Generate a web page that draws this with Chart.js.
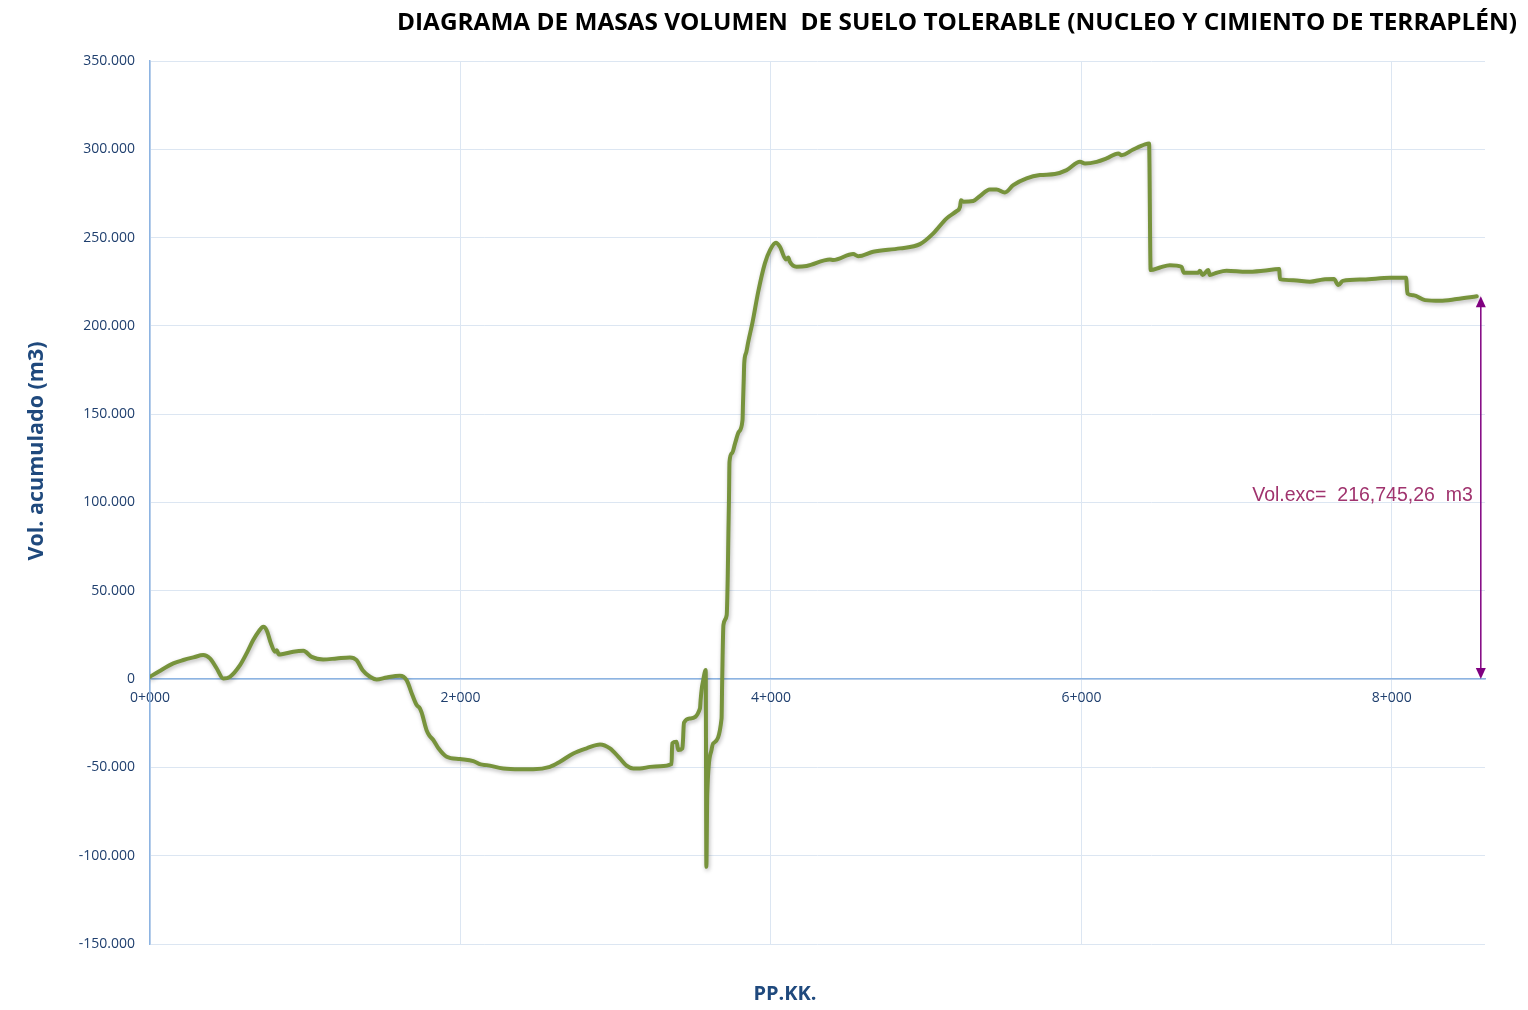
<!DOCTYPE html>
<html>
<head>
<meta charset="utf-8">
<script src="https://cdn.jsdelivr.net/npm/chart.js@4/dist/chart.umd.min.js"></script>
<style>
  html, body { margin: 0; padding: 0; background: #ffffff; }
  #wrap { width: 1528px; height: 1010px; position: relative; }
</style>
</head>
<body>
<div id="wrap"><canvas id="c" width="1528" height="1010"></canvas></div>
<script>
// ---- DATA ----
const chartTitle = 'DIAGRAMA DE MASAS VOLUMEN  DE SUELO TOLERABLE (NUCLEO Y CIMIENTO DE TERRAPLÉN)';
const yAxisTitle = 'Vol. acumulado (m3)';
const xAxisTitle = 'PP.KK.';
const xTickValues = [0, 2000, 4000, 6000, 8000];
const yTickValues = [-150000, -100000, -50000, 0, 50000, 100000, 150000, 200000, 250000, 300000, 350000];
const stations = [0, 60, 150, 215, 280, 343, 386, 430, 472, 515, 580, 625, 665, 700, 730, 751, 780, 805, 816, 830, 848, 923, 988, 1041, 1116, 1202, 1288, 1331, 1370, 1417, 1460, 1525, 1610, 1653, 1690, 1718, 1739, 1750, 1782, 1800, 1825, 1858, 1911, 1997, 2083, 2130, 2169, 2276, 2383, 2469, 2576, 2641, 2727, 2813, 2899, 2963, 3027, 3070, 3113, 3156, 3221, 3285, 3360, 3364, 3392, 3403, 3430, 3440, 3479, 3543, 3547, 3555, 3560, 3580, 3584, 3590, 3617, 3628, 3682, 3686, 3694, 3715, 3722, 3726, 3730, 3733, 3750, 3769, 3793, 3817, 3820, 3825, 3828, 3841, 3854, 3882, 3918, 3961, 3994, 4032, 4058, 4097, 4112, 4122, 4165, 4230, 4380, 4401, 4530, 4562, 4659, 4831, 4960, 5046, 5132, 5196, 5218, 5224, 5239, 5303, 5346, 5410, 5453, 5507, 5561, 5647, 5733, 5829, 5905, 5991, 6023, 6098, 6162, 6238, 6259, 6334, 6410, 6436, 6446, 6506, 6570, 6645, 6660, 6753, 6763, 6781, 6817, 6827, 6871, 6935, 7064, 7171, 7274, 7279, 7365, 7472, 7558, 7627, 7655, 7684, 7817, 7989, 8092, 8100, 8139, 8214, 8311, 8418, 8547];
const volumes = [1300, 4500, 8900, 10800, 12300, 13600, 11700, 6000, 400, 1300, 7900, 15000, 22100, 27000, 29600, 27700, 20000, 15500, 16400, 14000, 14100, 15500, 16000, 12600, 11100, 11700, 12300, 10760, 5000, 1300, -200, 960, 1900, -600, -9000, -14700, -16600, -19000, -29000, -32000, -34500, -39200, -44000, -45300, -46400, -48300, -48700, -50600, -51000, -51000, -49700, -46800, -42100, -39200, -37000, -39200, -44900, -49000, -50600, -50600, -49700, -49300, -48100, -36400, -35500, -40200, -39200, -24700, -22300, -16600, -11900, -5000, -2400, 5100, -106300, -64700, -40200, -36400, -22300, -570, 30600, 36200, 59000, 82500, 103000, 123000, 128000, 133500, 140000, 146700, 156000, 170000, 178800, 185000, 191000, 202300, 219300, 235400, 242900, 247100, 244800, 237600, 238800, 236300, 233500, 233900, 237600, 237300, 240700, 239500, 242000, 243900, 246300, 252400, 260900, 265000, 267400, 271200, 270300, 270700, 273500, 277300, 277300, 275600, 279700, 283500, 285400, 286000, 288200, 292900, 292000, 292900, 294800, 297600, 296700, 299900, 302800, 303300, 231600, 233100, 234400, 233500, 230100, 230100, 231200, 228800, 231600, 228800, 230100, 231200, 230600, 231200, 232200, 226500, 225900, 225000, 226300, 226500, 223100, 225500, 226300, 227200, 227200, 218400, 217400, 214600, 214200, 215200, 216745];
const xMin = 0, xMax = 8600;
const yMin = -150000, yMax = 350000;
const annotationStation = 8573;
const annotationVolume = 216745;
const annotationTextVolume = 104000;
const annotationText = 'Vol.exc=  216,745,26  m3';

// ---- FORMATTERS ----
function fmtStation(v) {
  const km = Math.floor(v / 1000);
  const m = Math.round(v - km * 1000);
  return km + '+' + String(m).padStart(3, '0');
}
function fmtVolume(v) {
  if (v === 0) return '0';
  const s = Math.abs(v).toString().replace(/\B(?=(\d{3})+(?!\d))/g, '.');
  return (v < 0 ? '-' : '') + s;
}

const points = stations.map((s, i) => ({ x: s, y: volumes[i] }));

const navy = '#1F3F6E';
const axisBlue = '#8DB4E2';
const gridBlue = '#DCE6F2';

const shadowPlugin = {
  id: 'lineShadow',
  beforeDatasetDraw(chart) {
    const ctx = chart.ctx;
    ctx.save();
    ctx.shadowColor = 'rgba(0,0,0,0.28)';
    ctx.shadowBlur = 4;
    ctx.shadowOffsetX = 1;
    ctx.shadowOffsetY = 2;
  },
  afterDatasetDraw(chart) {
    chart.ctx.restore();
  }
};

const textPlugin = {
  id: 'texts',
  afterDraw(chart) {
    const ctx = chart.ctx;
    const xs = chart.scales.x, ys = chart.scales.y;
    ctx.save();
    // main title, fitted to the reference width
    ctx.fillStyle = '#000000';
    ctx.font = 'bold 24px "Open Sans", sans-serif';
    ctx.textAlign = 'right';
    ctx.textBaseline = 'middle';
    const tw = ctx.measureText(chartTitle).width;
    const sx = 1120 / tw;
    ctx.save();
    ctx.translate(1517, 23);
    ctx.scale(sx, 1);
    ctx.fillText(chartTitle, 0, 0);
    ctx.restore();
    // y title
    ctx.save();
    ctx.translate(37, 451);
    ctx.rotate(-Math.PI / 2);
    ctx.textAlign = 'center';
    ctx.fillStyle = '#1F497D';
    ctx.font = 'bold 21.5px "Open Sans", sans-serif';
    ctx.fillText(yAxisTitle, 0, 0);
    ctx.restore();
    // x title
    ctx.textAlign = 'center';
    ctx.fillStyle = '#1F497D';
    ctx.font = 'bold 20px "Open Sans", sans-serif';
    ctx.fillText(xAxisTitle, 785, 994);

    // annotation arrow
    const ax = xs.getPixelForValue(annotationStation);
    const y0 = ys.getPixelForValue(0);
    const y1 = ys.getPixelForValue(annotationVolume);
    ctx.strokeStyle = '#800080';
    ctx.fillStyle = '#800080';
    ctx.lineWidth = 1.5;
    ctx.beginPath();
    ctx.moveTo(ax, y0 - 8);
    ctx.lineTo(ax, y1 + 8);
    ctx.stroke();
    ctx.beginPath();
    ctx.moveTo(ax, y0); ctx.lineTo(ax - 5, y0 - 11); ctx.lineTo(ax + 5, y0 - 11); ctx.closePath(); ctx.fill();
    ctx.beginPath();
    ctx.moveTo(ax, y1); ctx.lineTo(ax - 5, y1 + 11); ctx.lineTo(ax + 5, y1 + 11); ctx.closePath(); ctx.fill();
    // annotation text
    ctx.fillStyle = '#A0336E';
    ctx.font = '19.5px "Liberation Sans", Arial, sans-serif';
    ctx.textAlign = 'right';
    ctx.textBaseline = 'middle';
    ctx.fillText(annotationText, ax - 8, ys.getPixelForValue(annotationTextVolume));
    ctx.restore();
  }
};

new Chart(document.getElementById('c'), {
  type: 'line',
  data: {
    datasets: [{
      data: points,
      borderColor: '#77933C',
      borderWidth: 4,
      pointRadius: 0,
      cubicInterpolationMode: 'monotone',
      borderJoinStyle: 'round',
      borderCapStyle: 'round',
      fill: false
    }]
  },
  options: {
    responsive: false,
    animation: false,
    devicePixelRatio: 1,
    layout: { padding: { left: 0, top: 61, right: 43, bottom: 66 } },
    plugins: { legend: { display: false }, tooltip: { enabled: false }, title: { display: false } },
    scales: {
      x: {
        type: 'linear',
        min: xMin, max: xMax,
        position: { y: 0 },
        afterBuildTicks(scale) { scale.ticks = xTickValues.map(v => ({ value: v })); },
        grid: { color: gridBlue, lineWidth: 1, drawTicks: false },
        border: { display: true, color: axisBlue, width: 1.5 },
        ticks: {
          color: navy,
          font: { family: '"Open Sans", sans-serif', size: 14 },
          padding: 11,
          maxRotation: 0,
          autoSkip: false,
          callback: v => fmtStation(v)
        }
      },
      y: {
        type: 'linear',
        min: yMin, max: yMax,
        position: 'left',
        afterBuildTicks(scale) { scale.ticks = yTickValues.map(v => ({ value: v })); },
        afterFit(scale) { scale.width = 150; },
        grid: { color: gridBlue, lineWidth: 1, drawTicks: false },
        border: { display: true, color: axisBlue, width: 1.5 },
        ticks: {
          color: navy,
          font: { family: '"Open Sans", sans-serif', size: 14 },
          padding: 15,
          autoSkip: false,
          callback: v => fmtVolume(v)
        }
      }
    }
  },
  plugins: [shadowPlugin, textPlugin]
});
</script>
</body>
</html>
